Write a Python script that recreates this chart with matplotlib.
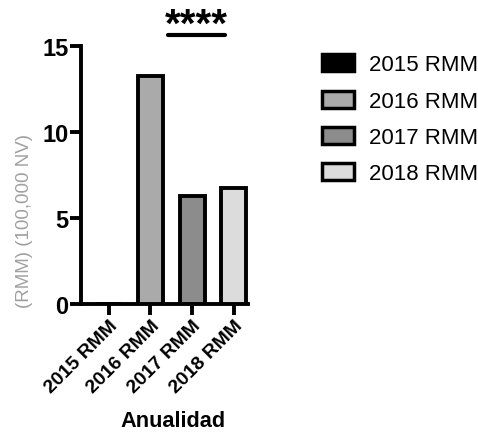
import matplotlib
matplotlib.use("Agg")
import matplotlib.pyplot as plt
from matplotlib.patches import Patch

categories = ["2015 RMM", "2016 RMM", "2017 RMM", "2018 RMM"]
values = [0.0, 13.25, 6.3, 6.73]
colors = ["#000000", "#aaaaaa", "#8c8c8c", "#dcdcdc"]
yticks = [0, 5, 10, 15]

plt.rcParams["font.family"] = ["Liberation Sans", "DejaVu Sans"]

fig = plt.figure(figsize=(4.78, 4.35), dpi=100)
ax = fig.add_axes([0.1695, 0.299, 0.349, 0.593])

x = range(len(categories))
ax.bar(x, values, width=0.6, color=colors, edgecolor="black", linewidth=2.8,
       zorder=3)

ax.set_xlim(-0.67, 3.34)
ax.set_ylim(0, 15)
ax.set_yticks(yticks)
ax.set_xticks(list(x))
ax.set_xticklabels(categories, rotation=45, ha="right", rotation_mode="anchor",
                   fontsize=14, fontweight="bold")
for lab in ax.get_yticklabels():
    lab.set_fontsize(17)
    lab.set_fontweight("bold")

for side in ("top", "right"):
    ax.spines[side].set_visible(False)
for side in ("left", "bottom"):
    ax.spines[side].set_linewidth(2.8)
ax.tick_params(axis="both", width=2.8, length=8, pad=1)

ax.set_ylabel("(RMM) (100,000 NV)", fontsize=13.5, color="#a0a0a0")
ax.yaxis.set_label_coords(-0.29, 0.324)
fig.text(173 / 478, 1 - 422 / 435, "Anualidad", fontsize=15.7,
         fontweight="bold", ha="center", va="center")

# significance bar
ax.plot([1.42, 2.78], [15.66, 15.66], color="black", lw=3, clip_on=False,
        solid_capstyle="round")
ax.text(2.1, 15.62, "****", ha="center", va="baseline", fontsize=29,
        fontweight="bold")

handles = [Patch(facecolor=c, edgecolor="black", linewidth=2.5, label=l)
           for c, l in zip(colors, categories)]
fig.legend(handles=handles, loc="upper left", bbox_to_anchor=(0.632, 0.919),
           frameon=False, fontsize=16, handlelength=1.44, handleheight=0.8,
           labelspacing=0.68, handletextpad=0.68)

fig.savefig("out.png", dpi=100, facecolor="white")
